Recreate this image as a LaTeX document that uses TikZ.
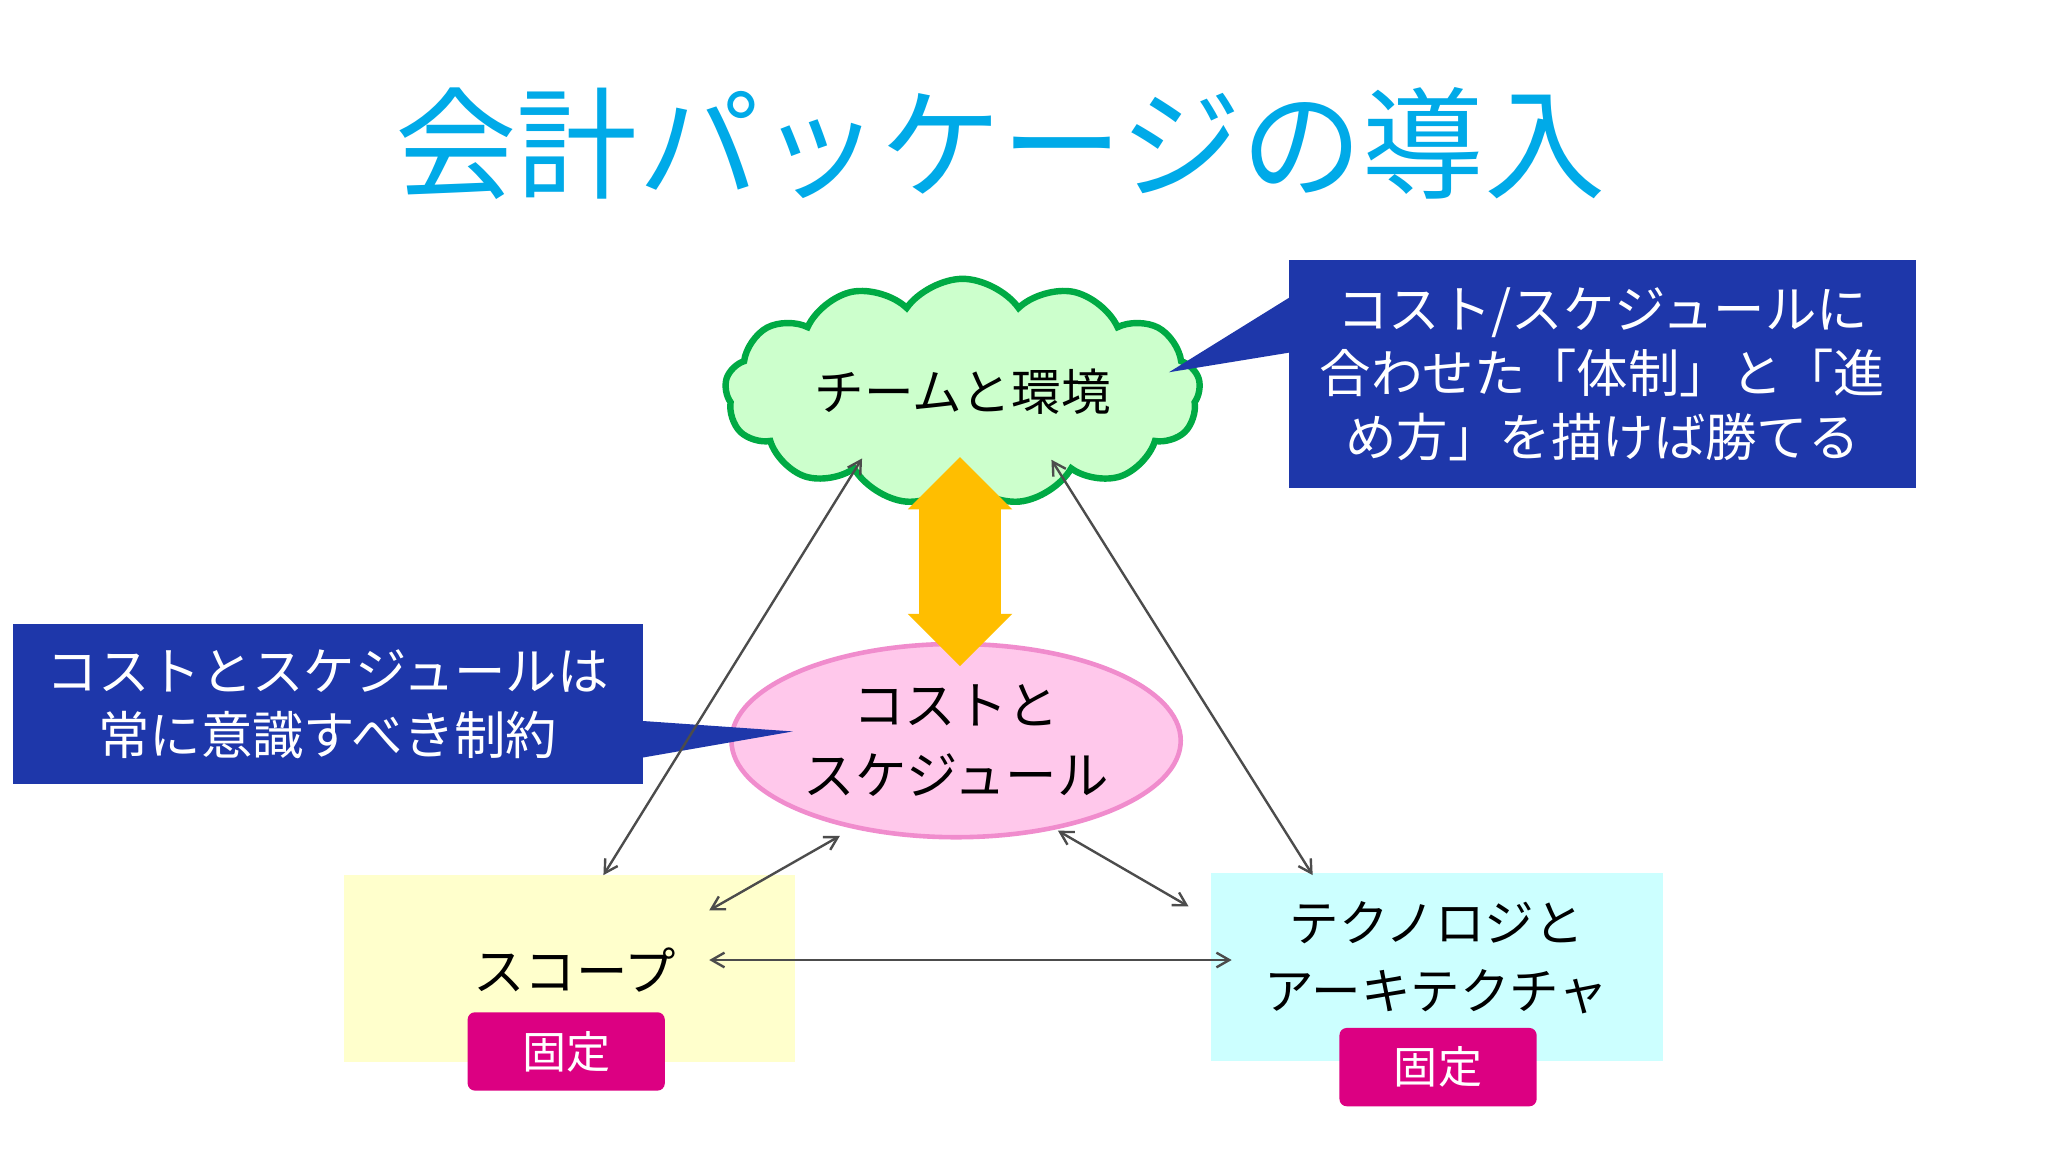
\documentclass[tikz,border=0pt]{standalone}
\usepackage{fontspec}
\setmainfont{Noto Sans CJK JP}
\usetikzlibrary{shapes.symbols,shapes.arrows,shapes.geometric,arrows.meta}
\definecolor{ttl}{RGB}{0,170,232}
\definecolor{cb}{RGB}{30,55,170}
\definecolor{mag}{RGB}{220,0,130}
\tikzset{
 x=0.05cm,y=-0.05cm,
 call/.style={fill=cb,text=white,font=\fontsize{56}{70}\selectfont,align=center,inner sep=0},
 badge/.style={fill=mag,text=white,rounded corners=8pt,font=\fontsize{48}{56}\selectfont,minimum width=7.55cm,minimum height=3cm},
 link/.style={draw=black!70,line width=2.6pt,{Straight Barb[length=14pt,width=16pt]}-{Straight Barb[length=14pt,width=16pt]}},
 big/.style={font=\fontsize{56}{76}\selectfont,align=center}
}
\begin{document}
\begin{tikzpicture}
\useasboundingbox[fill=white] (0,0) rectangle (1568,882);
\node[text=ttl,font=\fontsize{132}{140}\selectfont] (title) at (766,110) {会計パッケージの導入};
% boxes
\node[fill={rgb,255:red,255;green,255;blue,204},minimum width=17.3cm,minimum height=7.15cm] (scope) at (436,741.5) {};
\node[big] (scopet) at (440,743) {スコープ};
\node[fill={rgb,255:red,204;green,255;blue,255},minimum width=17.3cm,minimum height=7.2cm] (tech) at (1100,740) {};
\node[big,font=\fontsize{54}{74}\selectfont] (techt) at (1100,733) {テクノロジと\\アーキテクチャ};
\node[badge] (b1) at (433.5,805) {固定};
\node[badge] (b2) at (1101,817) {固定};
% cloud
\node[cloud,cloud puffs=13,cloud puff arc=110,aspect=2.4,draw={rgb,255:red,0;green,170;blue,68},line width=7pt,fill={rgb,255:red,204;green,255;blue,204},minimum width=18.2cm,minimum height=7.8cm,font=\fontsize{54}{60}\selectfont] (team) at (737,300) {チームと環境};
% ellipse
\node[ellipse,draw={rgb,255:red,240;green,140;blue,205},line width=5pt,fill={rgb,255:red,255;green,200;blue,235},minimum width=17.2cm,minimum height=7.4cm,big] (cost) at (732,567) {コストと\\スケジュール};
% orange arrow
\node[double arrow,shape border rotate=90,fill={rgb,255:red,255;green,190;blue,0},minimum height=8cm,minimum width=4cm,double arrow head extend=0.1cm,inner sep=0.35cm] (oa) at (735,430) {};
% callouts
\node[call,minimum width=24cm,minimum height=8.75cm] (c1) at (1227,286.5) {コスト/スケジュールに\\合わせた「体制」と「進\\め方」を描けば勝てる};
\coordinate (p1) at (895,285);
\fill[cb] (c1.west |- 0,228) -- (p1) -- (c1.west |- 0,270) -- cycle;
\node[call,minimum width=24.1cm,minimum height=6.1cm] (c2) at (251,539) {コストとスケジュールは\\常に意識すべき制約};
\coordinate (p2) at (607,560);
\fill[cb] (c2.east |- 0,552) -- (p2) -- (c2.east |- 0,580) -- cycle;
% links
\coordinate (a1) at (660,351); \coordinate (a2) at (462,670);
\coordinate (a3) at (805,352); \coordinate (a4) at (1005,670);
\coordinate (a5) at (643,640); \coordinate (a6) at (543,697);
\coordinate (a7) at (810,636); \coordinate (a8) at (910,694);
\coordinate (a9) at (543,735); \coordinate (a10) at (943,735);
\draw[link] (a1) -- (a2);
\draw[link] (a3) -- (a4);
\draw[link] (a5) -- (a6);
\draw[link] (a7) -- (a8);
\draw[link] (a9) -- (a10);
\end{tikzpicture}
\end{document}
